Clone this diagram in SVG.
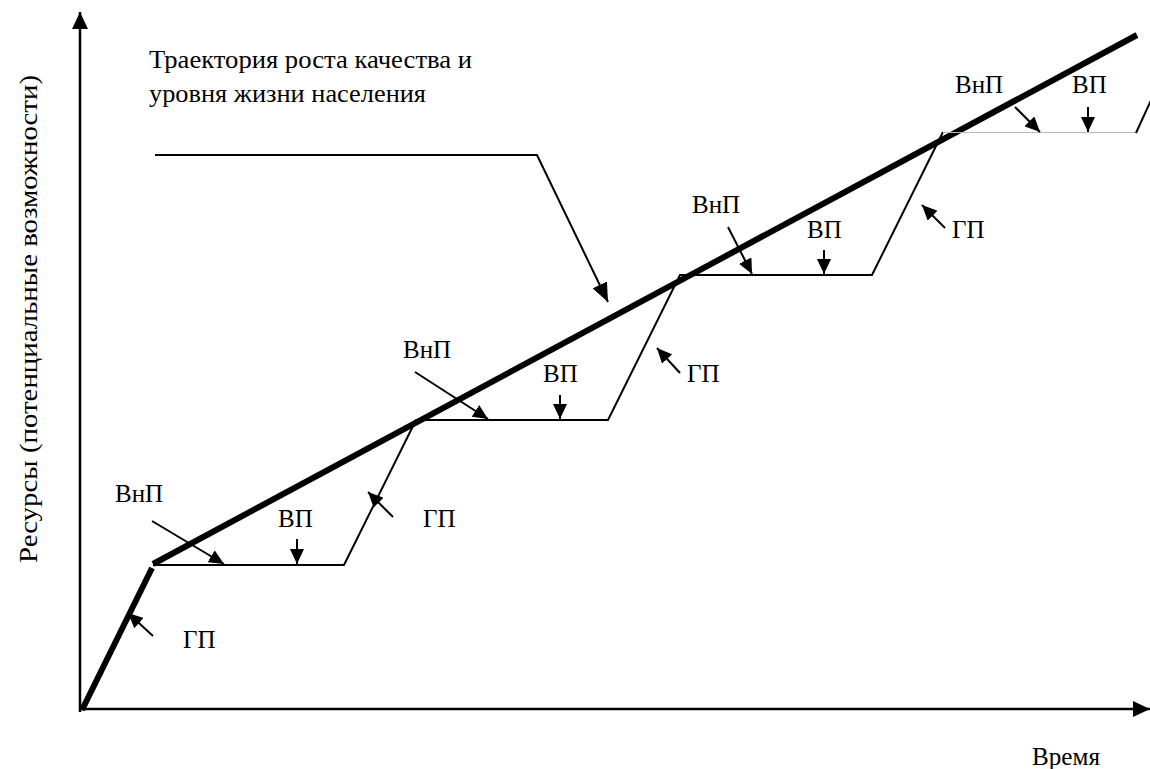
<svg xmlns="http://www.w3.org/2000/svg" width="1150" height="769" viewBox="0 0 1150 769" font-family="'Liberation Serif', 'DejaVu Serif', serif" font-size="25">
<style>
.ax{stroke:#000;stroke-width:2.5;fill:none}
.thick{stroke:#000;stroke-width:6;fill:none;stroke-linejoin:miter}
.thin{stroke:#000;stroke-width:2;fill:none}
.ar{stroke:#000;stroke-width:2;fill:none;marker-end:url(#ah)}
</style>
<defs>
<marker id="ah" markerUnits="userSpaceOnUse" markerWidth="16" markerHeight="14" refX="15" refY="7" orient="auto"><path d="M0,0 L15,7 L0,14 Z" fill="#000"/></marker>
<marker id="ahL" markerUnits="userSpaceOnUse" markerWidth="20" markerHeight="16" refX="19" refY="8" orient="auto"><path d="M0,0 L19,8 L0,16 Z" fill="#000"/></marker>
<marker id="axh" markerUnits="userSpaceOnUse" markerWidth="18" markerHeight="16" refX="17" refY="8" orient="auto"><path d="M0,0 L17,8 L0,16 Z" fill="#000"/></marker>
</defs>
<g id="axes">
<line class="ax" x1="80" y1="712" x2="80" y2="12" marker-end="url(#axh)"/>
<line class="ax" x1="79" y1="709" x2="1150" y2="709" marker-end="url(#axh)"/>
<text id="ylabel" transform="translate(37,319) rotate(-90)" text-anchor="middle" textLength="488" lengthAdjust="spacingAndGlyphs">Ресурсы (потенциальные возможности)</text>
<text id="xlabel" x="1032" y="765" textLength="68" lengthAdjust="spacingAndGlyphs">Время</text>
</g>
<g id="trajectory">
<polyline class="thick" points="82,710 152,568"/>
<polyline class="thick" points="153,564 1137,35"/>
</g>
<g id="steps">
<polyline class="thin" points="153,565 344,565 416,420 608,420 680,275 872,275 943,132"/>
<line x1="943" y1="132.5" x2="1136" y2="132.5" stroke="#bbb" stroke-width="1"/>
<line class="thin" x1="1136" y1="133" x2="1152" y2="98"/>
</g>
<g id="title">
<text x="149" y="68" textLength="323" lengthAdjust="spacingAndGlyphs">Траектория роста качества и</text>
<text x="149" y="102" textLength="277" lengthAdjust="spacingAndGlyphs">уровня жизни населения</text>
<polyline class="thin" points="155,155 537,155 608,302" marker-end="url(#ahL)"/>
</g>
<g id="labels">
<g id="s1">
<text x="115" y="502">ВнП</text>
<line class="ar" x1="152" y1="521" x2="224" y2="564"/>
<text x="278" y="527">ВП</text>
<line class="ar" x1="297" y1="539" x2="297" y2="564"/>
<text x="423" y="527">ГП</text>
<line class="ar" x1="393" y1="517" x2="368" y2="492"/>
<text x="183" y="648">ГП</text>
<line class="ar" x1="153" y1="636" x2="128" y2="613"/>
</g>
<g id="s2">
<text x="403" y="358">ВнП</text>
<line class="ar" x1="415" y1="372" x2="488" y2="419"/>
<text x="543" y="382">ВП</text>
<line class="ar" x1="560" y1="395" x2="560" y2="419"/>
<text x="687" y="382">ГП</text>
<line class="ar" x1="680" y1="373" x2="657" y2="348"/>
</g>
<g id="s3">
<text x="692" y="213">ВнП</text>
<line class="ar" x1="728" y1="227" x2="752" y2="274"/>
<text x="807" y="238">ВП</text>
<line class="ar" x1="824" y1="250" x2="824" y2="274"/>
<text x="952" y="238">ГП</text>
<line class="ar" x1="945" y1="228" x2="922" y2="205"/>
</g>
<g id="s4">
<text x="955" y="93">ВнП</text>
<line class="ar" x1="1015" y1="107" x2="1040" y2="132"/>
<text x="1072" y="93">ВП</text>
<line class="ar" x1="1088" y1="107" x2="1088" y2="132"/>
</g>
</g>
</svg>
